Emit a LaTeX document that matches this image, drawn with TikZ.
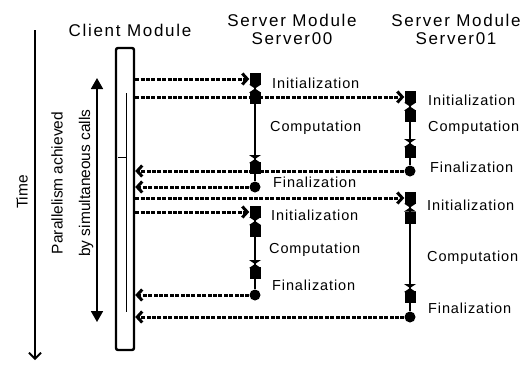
\documentclass[tikz,border=0pt]{standalone}
\usepackage{fontspec}
\setmainfont{Liberation Sans}
\newfontfamily\labfont{Liberation Sans}[LetterSpace=6]
\newfontfamily\titfont{Liberation Sans}[LetterSpace=10]
\usetikzlibrary{arrows.meta}
\usetikzlibrary{calc}
\def\hglass(#1){\fill ($(#1)+(-6,-4)$) -- ++(12,0) -- ++(-12,8) -- ++(12,0) -- cycle}

\begin{document}
\begin{tikzpicture}[x=1pt,y=-1pt,
    call/.style={line width=3pt,dash pattern=on 4pt off 1.4pt,-{Straight Barb[length=5pt,width=11pt]}},
    life/.style={line width=2.6pt},
    blk/.style={fill=black,minimum width=11pt,minimum height=12pt,inner sep=0pt},
    endpt/.style={circle,fill=black,minimum size=11pt,inner sep=0pt},
    lab/.style={font=\labfont\fontsize{14.5}{16}\selectfont,anchor=west,inner sep=0pt},
    ttl/.style={font=\titfont\fontsize{17}{18}\selectfont,align=center,inner sep=0pt},
    side/.style={font=\fontsize{15.5}{17}\selectfont,rotate=90,inner sep=0pt}]
        \useasboundingbox (0,0) rectangle (525,365);
        % titles
        \node[ttl] (tcl) at (130,30) {Client Module};
        \node[ttl] (ts0) at (292,29) {Server Module\\Server00};
        \node[ttl] (ts1) at (456,29) {Server Module\\Server01};
        % time and parallelism
        \coordinate (t0) at (35,30);
        \coordinate (t1) at (35,360);
        \draw[line width=1.8pt,-{Straight Barb[length=6pt,width=12pt]}] (t0) -- (t1);
        \node[side] (time) at (22,192) {Time};
        \coordinate (p0) at (97,78);
        \coordinate (p1) at (97,322);
        \draw[line width=1.8pt,{Triangle[length=11pt,width=12pt]}-{Triangle[length=11pt,width=12pt]}] (p0) -- (p1);
        \node[side] (par1) at (57,183) {Parallelism achieved};
        \node[side] (par2) at (86,183) {by simultaneous calls};
        % client bar
        \node[draw,line width=2.4pt,rounded corners=2pt,minimum width=18pt,minimum height=302pt,inner sep=0pt] (cl) at (125,199) {};
        \draw[line width=1pt] (126,93) -- (126,312);
        \draw[line width=0.7pt] (118,157) -- (126,157);
        % server00, first call
        \node[blk] (s0ia) at (255,79) {};
        \node[blk] (s0ib) at (255,98) {};
        \node[blk] (s0ic) at (255,168) {};
        \node[endpt] (s0fa) at (255,187) {};
        % server01, first call
        \node[blk] (s1ia) at (410,97) {};
        \node[blk] (s1ib) at (410,116) {};
        \node[blk] (s1ic) at (410,152) {};
        \node[endpt] (s1fa) at (410,171) {};
        % server01, second call
        \node[blk] (s1ja) at (410,198) {};
        \node[blk] (s1jb) at (410,217.5) {};
        \node[blk] (s1jc) at (410,297) {};
        \node[endpt] (s1fb) at (410,317) {};
        % server00, second call
        \node[blk] (s0ja) at (255,212) {};
        \node[blk] (s0jb) at (255,230.5) {};
        \node[blk] (s0jc) at (255,273) {};
        \node[endpt] (s0fb) at (255,295) {};
        % lifelines
        \draw[life] (s0ia) -- (s0fa);
        \draw[life] (s1ia) -- (s1fa);
        \draw[life] (s1ja) -- (s1fb);
        \draw[life] (s0ja) -- (s0fb);
        \hglass(255,88.5);
        \hglass(255,159);
        \hglass(410,106.5);
        \hglass(410,143);
        \hglass(410,207.5);
        \hglass(410,288);
        \hglass(255,221);
        \hglass(255,264);
        % calls and returns
        \draw[call] (s0ia -| cl.east) -- (s0ia.west);
        \draw[call] (s1ia -| cl.east) -- (s1ia.west);
        \draw[call] (s1fa) -- (s1fa -| cl.east);
        \draw[call] (s0fa) -- (s0fa -| cl.east);
        \draw[call] (s1ja -| cl.east) -- (s1ja.west);
        \draw[call] (s0ja -| cl.east) -- (s0ja.west);
        \draw[call] (s0fb) -- (s0fb -| cl.east);
        \draw[call] (s1fb) -- (s1fb -| cl.east);
        % labels
        \node[lab] (l0ia) at (272,83) {Initialization};
        \node[lab] (l0ca) at (270,128) {Computation};
        \node[lab] (l0fa) at (273,182) {Finalization};
        \node[lab] (l1ia) at (428,100) {Initialization};
        \node[lab] (l1ca) at (428,128) {Computation};
        \node[lab] (l1fa) at (430,167) {Finalization};
        \node[lab] (l0ib) at (271,215) {Initialization};
        \node[lab] (l0cb) at (269,250) {Computation};
        \node[lab] (l0fb) at (272,285) {Finalization};
        \node[lab] (l1ib) at (427,205) {Initialization};
        \node[lab] (l1cb) at (427,258) {Computation};
        \node[lab] (l1fb) at (428,308) {Finalization};
    \end{tikzpicture}
\end{document}
